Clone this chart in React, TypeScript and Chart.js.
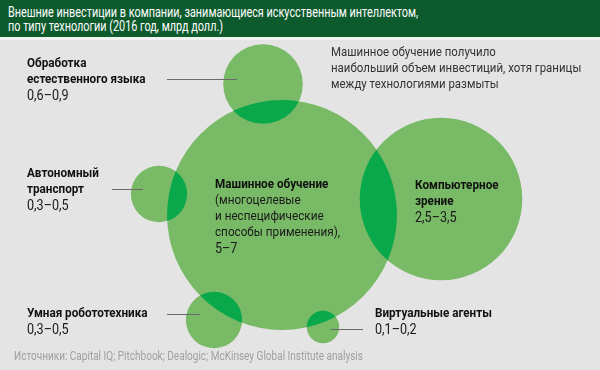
import React, { useEffect, useRef } from "react";
import { Chart, registerables } from "chart.js";

Chart.register(...registerables);

// ---- data ----
const categories = [
  "Обработка естественного языка",
  "Автономный транспорт",
  "Машинное обучение",
  "Умная робототехника",
  "Компьютерное зрение",
  "Виртуальные агенты",
];
const lowValues = [0.6, 0.3, 5, 0.3, 2.5, 0.1];
const highValues = [0.9, 0.5, 7, 0.5, 3.5, 0.2];
// bubble placement (layout units on hidden 600x370 scales)
const posX = [263, 159, 282, 214, 441, 323];
const posY = [84, 194, 215, 320, 199, 327];

const titleLines = [
  "Внешние инвестиции в компании, занимающиеся искусственным интеллектом,",
  "по типу технологии (2016 год, млрд долл.)",
];
const noteLines = [
  "Машинное обучение получило",
  "наибольший объем инвестиций, хотя границы",
  "между технологиями размыты",
];
const sourceText =
  "Источники: Capital IQ; Pitchbook; Dealogic; McKinsey Global Institute analysis";

// ---- layout / style ----
const W = 600;
const H = 370;
const RADIUS_PER_SQRT = 51.4; // px per sqrt(bn $), area ∝ lower bound
const FONT = 'Roboto, "Liberation Sans Narrow", sans-serif';
const BG = "#e4e4e4";
const BUBBLE = "#78ba66";
const OVERLAP = "#09a84a";

const labelBlocks = [
  { i: 0, left: 27, top: 55, bold: ["Обработка", "естественного языка"], extra: [] as string[] },
  { i: 1, left: 27, top: 165, bold: ["Автономный", "транспорт"], extra: [] },
  { i: 3, left: 27, top: 305, bold: ["Умная робототехника"], extra: [] },
  {
    i: 2,
    left: 215,
    top: 176,
    bold: ["Машинное обучение"],
    extra: ["(многоцелевые", "и неспецифические", "способы применения),"],
  },
  { i: 4, left: 415, top: 177, bold: ["Компьютерное", "зрение"], extra: [] },
  { i: 5, left: 375, top: 305, bold: ["Виртуальные агенты"], extra: [] },
];

const leaders = [
  { x1: 167, x2: 237, y: 79 },
  { x1: 112, x2: 143, y: 189 },
  { x1: 167, x2: 200, y: 314 },
  { x1: 330, x2: 363, y: 329 },
];

const fmt = (v: number) => String(v).replace(".", ",");
const rangeText = (i: number) => `${fmt(lowValues[i])}–${fmt(highValues[i])}`;

const overlapPlugin = {
  id: "overlap",
  afterDatasetsDraw(chart: any) {
    const ctx = chart.ctx;
    const els = chart.getDatasetMeta(0).data as any[];
    for (let a = 0; a < els.length; a++) {
      for (let b = a + 1; b < els.length; b++) {
        const A = els[a];
        const B = els[b];
        const ra = A.options.radius;
        const rb = B.options.radius;
        const d = Math.hypot(A.x - B.x, A.y - B.y);
        if (d >= ra + rb) continue;
        ctx.save();
        ctx.beginPath();
        ctx.arc(A.x, A.y, ra, 0, Math.PI * 2);
        ctx.clip();
        ctx.beginPath();
        ctx.arc(B.x, B.y, rb, 0, Math.PI * 2);
        ctx.fillStyle = OVERLAP;
        ctx.fill();
        ctx.restore();
      }
    }
  },
  afterDraw(chart: any) {
    const ctx = chart.ctx;
    const xs = chart.scales.x;
    const ys = chart.scales.y;
    ctx.save();
    ctx.strokeStyle = "#6a6a6a";
    ctx.lineWidth = 1;
    for (const l of leaders) {
      const y = Math.round(ys.getPixelForValue(l.y)) + 0.5;
      ctx.beginPath();
      ctx.moveTo(xs.getPixelForValue(l.x1), y);
      ctx.lineTo(xs.getPixelForValue(l.x2), y);
      ctx.stroke();
    }
    ctx.restore();
  },
};

export default function App() {
  const ref = useRef<HTMLCanvasElement | null>(null);

  useEffect(() => {
    if (!ref.current) return;
    const chart = new Chart(ref.current, {
      type: "bubble",
      data: {
        labels: categories,
        datasets: [
          {
            data: categories.map((_, i) => ({
              x: posX[i],
              y: posY[i],
              r: RADIUS_PER_SQRT * Math.sqrt(lowValues[i]),
            })),
            backgroundColor: BUBBLE,
            borderWidth: 0,
            hoverRadius: 0,
            clip: false as any,
          },
        ],
      },
      options: {
        responsive: false,
        animation: false,
        events: [],
        layout: { padding: 0, autoPadding: false },
        plugins: {
          legend: { display: false },
          tooltip: { enabled: false },
        },
        scales: {
          x: { type: "linear", min: 0, max: W, display: false },
          y: { type: "linear", min: 0, max: H, reverse: true, display: false },
        },
      },
      plugins: [overlapPlugin],
    });
    return () => chart.destroy();
  }, []);

  const abs = (left: number, top: number, sx: number): React.CSSProperties => ({
    position: "absolute",
    left,
    top,
    whiteSpace: "nowrap",
    transform: `scaleX(${sx})`,
    transformOrigin: "left top",
  });

  return (
    <div
      style={{
        position: "absolute",
        left: 0,
        top: 0,
        width: W,
        height: H,
        background: BG,
        overflow: "hidden",
        fontFamily: FONT,
      }}
    >
      <canvas ref={ref} width={W} height={H} style={{ position: "absolute", left: 0, top: 0, width: W, height: H }} />
      <div
        style={{
          position: "absolute",
          left: 0,
          top: 0,
          width: W,
          height: 37,
          background: "#0d5a2d",
          borderBottom: "3px solid #f1f3f1",
        }}
      />
      <div style={{ ...abs(8, 5, 0.775), color: "#ffffff", fontSize: 14, lineHeight: "14px" }}>
        {titleLines.map((t) => (
          <div key={t}>{t}</div>
        ))}
      </div>
      <div style={{ ...abs(331, 43, 0.85), color: "#333333", fontSize: 13.5, lineHeight: "16px" }}>
        {noteLines.map((t) => (
          <div key={t}>{t}</div>
        ))}
      </div>
      {labelBlocks.map((b) => (
        <div key={b.i} style={{ ...abs(b.left, b.top, 0.9), lineHeight: "16px" }}>
          {b.bold.map((t) => (
            <div key={t} style={{ fontWeight: 700, fontSize: 13, color: "#111111" }}>
              {t}
            </div>
          ))}
          {b.extra.map((t) => (
            <div key={t} style={{ fontSize: 13, color: "#1a1a1a" }}>
              {t}
            </div>
          ))}
          <div style={{ fontSize: 14, color: "#1a1a1a" }}>{rangeText(b.i)}</div>
        </div>
      ))}
      <div style={{ ...abs(14, 349, 0.835), color: "#9f9f9f", fontSize: 12, lineHeight: "14px" }}>{sourceText}</div>
    </div>
  );
}
